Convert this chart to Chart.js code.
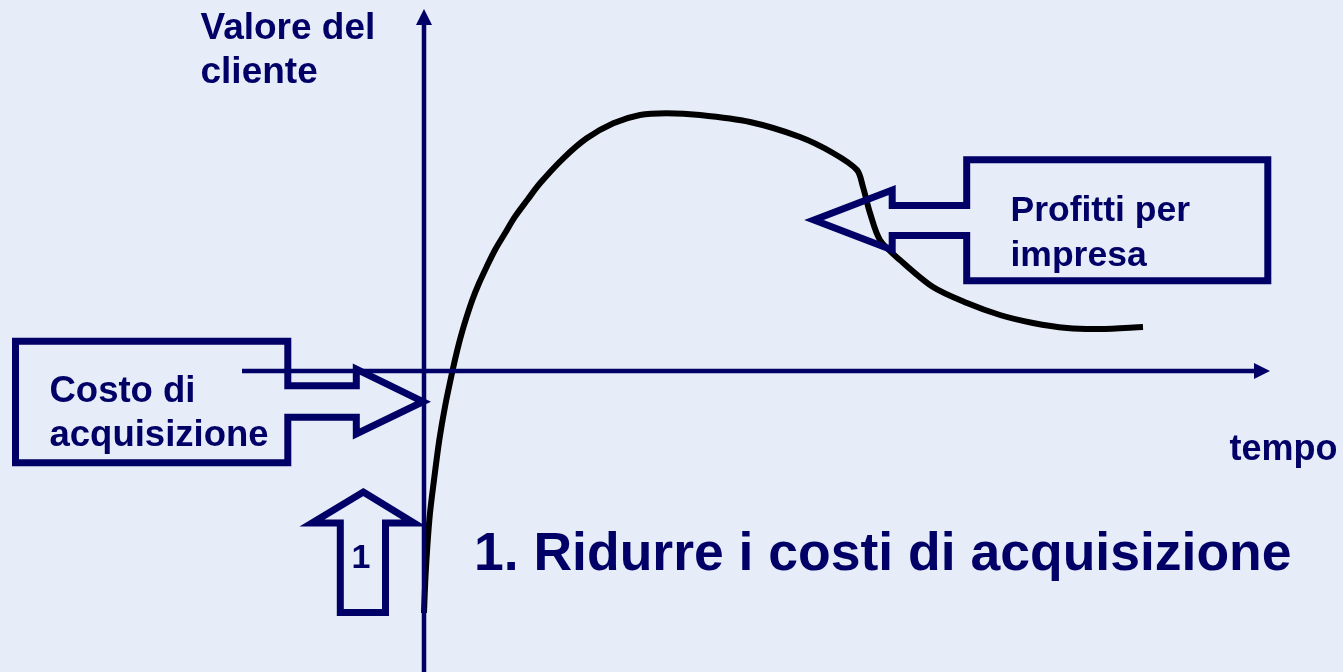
<!DOCTYPE html>
<html>
<head>
<meta charset="utf-8">
<script src="https://cdn.jsdelivr.net/npm/chart.js@4"></script>
<style>
  html, body { margin: 0; padding: 0; background: #E6ECF8; }
  #wrap { width: 1343px; height: 672px; position: relative; }
  canvas { display: block; }
</style>
</head>
<body>
<div id="wrap"><canvas id="c" width="1343" height="672"></canvas></div>
<script>
// ---- Data: customer value over time (axis units) ----
const tempo   = [0.00, 0.013, 0.033, 0.06, 0.10, 0.153, 0.21, 0.283, 0.333, 0.377, 0.427, 0.483, 0.55, 0.627, 0.71, 0.81, 0.91, 1.033, 1.16, 1.393, 1.627, 1.893, 2.16, 2.427, 2.76, 3.26, 3.76, 4.09, 4.33, 4.39, 4.46, 4.56, 4.76, 5.09, 5.43, 5.76, 6.09, 6.43, 6.76, 7.19];
const valore  = [-2.42, -2.09, -1.757, -1.42, -1.09, -0.69, -0.357, -0.007, 0.21, 0.377, 0.543, 0.71, 0.877, 1.043, 1.21, 1.377, 1.543, 1.71, 1.877, 2.127, 2.327, 2.477, 2.56, 2.577, 2.56, 2.49, 2.34, 2.18, 2.01, 1.84, 1.58, 1.31, 1.11, 0.84, 0.68, 0.56, 0.48, 0.43, 0.42, 0.44];

// ---- Texts ----
const yAxisTitle = ['Valore del', 'cliente'];
const xAxisTitle = 'tempo';
const costLabel = ['Costo di', 'acquisizione'];
const profitLabel = ['Profitti per', 'impresa'];
const stepLabel = '1';
const headline = '1. Ridurre i costi di acquisizione';

const NAVY = '#000066';
const FONT = '"Liberation Sans", Arial, Helvetica, sans-serif';

// annotation geometry (in axis units)
const annot = {
  axes: { xFrom: -1.82, xTo: 8.46, yFrom: -3.05, yTo: 3.62, head: 0.16, half: 0.08, width: 4.5 },
  shapes: [
    // Costo di acquisizione callout
    [[-4.085,0.298],[-1.362,0.298],[-1.362,-0.147],[-0.677,-0.147],[-0.677,0.02],[-0.01,-0.307],[-0.677,-0.63],[-0.677,-0.463],[-1.362,-0.463],[-1.362,-0.918],[-4.085,-0.918]],
    // Profitti per impresa callout
    [[5.427,2.112],[8.438,2.112],[8.438,0.902],[5.427,0.902],[5.427,1.355],[4.682,1.355],[4.682,1.21],[3.9,1.51],[4.682,1.81],[4.682,1.655],[5.427,1.655]],
    // up arrow "1"
    [[-0.607,-1.21],[-0.1,-1.52],[-0.385,-1.52],[-0.385,-2.415],[-0.837,-2.415],[-0.837,-1.52],[-1.12,-1.52]]
  ],
  texts: [
    { lines: yAxisTitle, x: -2.235, y: 3.317, lh: 0.44, size: 37, align: 'left' },
    { lines: costLabel, x: -3.745, y: -0.307, lh: 0.443, size: 36.5, align: 'left' },
    { lines: profitLabel, x: 5.865, y: 1.50, lh: 0.45, size: 35.5, align: 'left' },
    { lines: [xAxisTitle], x: 8.055, y: -0.89, lh: 0, size: 36, align: 'left' },
    { lines: [stepLabel], x: -0.63, y: -1.97, lh: 0, size: 34, align: 'center' },
    { lines: [headline], x: 0.50, y: -1.99, lh: 0, size: 53.5, align: 'left' }
  ]
};

const diagramPlugin = {
  id: 'diagram',
  beforeDraw(chart) {
    const ctx = chart.ctx;
    ctx.save();
    ctx.fillStyle = '#E6ECF8';
    ctx.fillRect(0, 0, chart.width, chart.height);
    ctx.restore();
  },
  afterDatasetsDraw(chart) {
    const ctx = chart.ctx;
    const sx = chart.scales.x, sy = chart.scales.y;
    const X = v => sx.getPixelForValue(v);
    const Y = v => sy.getPixelForValue(v);
    const a = annot.axes;
    ctx.save();
    // axes
    ctx.strokeStyle = NAVY; ctx.fillStyle = NAVY; ctx.lineWidth = a.width; ctx.lineCap = 'butt';
    ctx.beginPath();
    ctx.moveTo(X(0), Y(a.yFrom)); ctx.lineTo(X(0), Y(a.yTo - a.head));
    ctx.moveTo(X(a.xFrom), Y(0)); ctx.lineTo(X(a.xTo - a.head), Y(0));
    ctx.stroke();
    ctx.beginPath();
    ctx.moveTo(X(0), Y(a.yTo)); ctx.lineTo(X(a.half), Y(a.yTo - a.head)); ctx.lineTo(X(-a.half), Y(a.yTo - a.head)); ctx.closePath();
    ctx.fill();
    ctx.beginPath();
    ctx.moveTo(X(a.xTo), Y(0)); ctx.lineTo(X(a.xTo - a.head), Y(a.half)); ctx.lineTo(X(a.xTo - a.head), Y(-a.half)); ctx.closePath();
    ctx.fill();
    // callout shapes
    ctx.lineWidth = 7; ctx.lineJoin = 'miter'; ctx.miterLimit = 10;
    annot.shapes.forEach(pts => {
      ctx.beginPath();
      pts.forEach((p, i) => { if (i === 0) ctx.moveTo(X(p[0]), Y(p[1])); else ctx.lineTo(X(p[0]), Y(p[1])); });
      ctx.closePath();
      ctx.stroke();
    });
    // texts
    ctx.textBaseline = 'alphabetic';
    annot.texts.forEach(t => {
      ctx.font = 'bold ' + t.size + 'px ' + FONT;
      ctx.textAlign = t.align;
      t.lines.forEach((line, i) => {
        ctx.fillText(line, X(t.x), Y(t.y - i * t.lh));
      });
    });
    ctx.restore();
  }
};

new Chart(document.getElementById('c'), {
  type: 'line',
  data: {
    datasets: [{
      data: tempo.map((x, i) => ({ x, y: valore[i] })),
      borderColor: '#000000',
      borderWidth: 6,
      pointRadius: 0,
      tension: 0.3,
      borderCapStyle: 'butt',
      borderJoinStyle: 'round',
      fill: false
    }]
  },
  options: {
    responsive: false,
    animation: false,
    maintainAspectRatio: false,
    layout: { padding: 0 },
    plugins: { legend: { display: false }, tooltip: { enabled: false } },
    events: [],
    scales: {
      x: { type: 'linear', min: -4.24, max: 9.19, display: false },
      y: { type: 'linear', min: -3.01, max: 3.71, display: false }
    }
  },
  plugins: [diagramPlugin]
});
</script>
</body>
</html>
